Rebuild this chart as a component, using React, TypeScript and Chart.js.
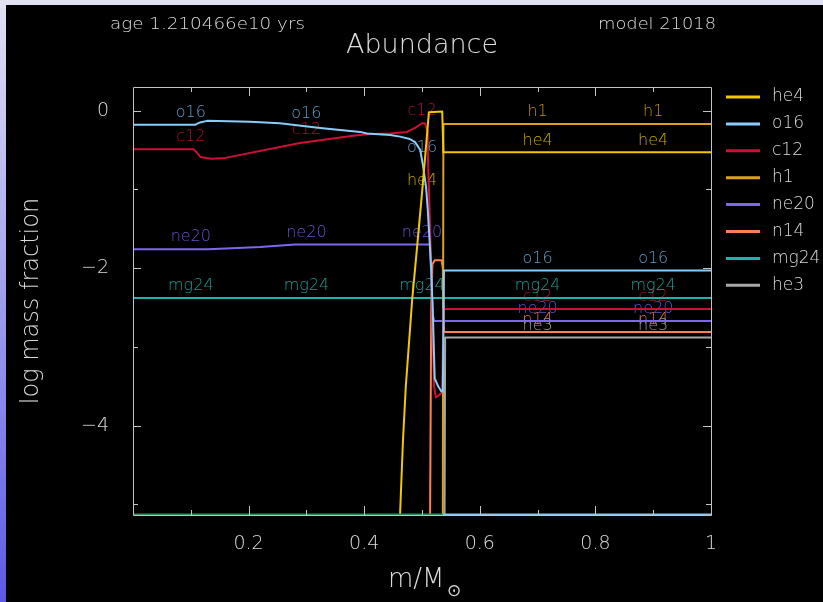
import React, { useEffect, useRef } from 'react';
import { Chart, registerables } from 'chart.js';

Chart.register(...registerables);

// ---- data (log mass fraction vs m/Msun) ----
const Y_MIN = -5.134;
const Y_MAX = 0.3;
const FLOOR = -5.134;

const SERIES_NAMES = ['he4', 'o16', 'c12', 'h1', 'ne20', 'n14', 'mg24', 'he3'];
const SERIES_COLORS = ['#f2c800', '#87cefa', '#cf1036', '#dca21c', '#7b68ee', '#ff7f50', '#20b2aa', '#a8a8a8'];
const LABEL_COLORS = ['#c8a800', '#5f9cc8', '#b0102e', '#c0901c', '#6454cc', '#e07048', '#1a9c95', '#9a9a9a'];
const LABEL_X = [0.1, 0.3, 0.5, 0.7, 0.9];

const HE4_X = [0, 0.462, 0.467, 0.472, 0.483, 0.491, 0.5, 0.512, 0.535, 0.537, 1];
const HE4_Y = [FLOOR, FLOOR, -4.2, -3.5, -2.4, -1.77, -1.05, -0.02, -0.01, -0.53, -0.53];

const O16_X = [0, 0.107, 0.116, 0.128, 0.202, 0.254, 0.324, 0.393, 0.405, 0.445, 0.462, 0.479, 0.488, 0.497, 0.502, 0.507, 0.51, 0.513, 0.516, 0.519, 0.522, 0.528, 0.533, 0.536, 0.538, 1];
const O16_Y = [-0.18, -0.18, -0.15, -0.13, -0.14, -0.16, -0.22, -0.27, -0.29, -0.31, -0.33, -0.36, -0.4, -0.5, -0.71, -0.97, -1.26, -1.64, -2.02, -2.63, -3.4, -3.5, -3.56, -3.57, -2.03, -2.03];

const C12_X = [0, 0.105, 0.11, 0.117, 0.135, 0.16, 0.289, 0.381, 0.405, 0.445, 0.474, 0.488, 0.5, 0.505, 0.509, 0.51, 0.512, 0.516, 0.519, 0.521, 0.524, 0.53, 0.535, 0.537, 1];
const C12_Y = [-0.49, -0.49, -0.53, -0.59, -0.61, -0.6, -0.41, -0.32, -0.3, -0.29, -0.27, -0.22, -0.16, -0.16, -0.25, -0.5, -1.0, -2.0, -3.0, -3.5, -3.64, -3.61, -3.57, -2.52, -2.52];

const H1_X = [0, 0.536, 0.537, 1];
const H1_Y = [FLOOR, FLOOR, -0.17, -0.17];

const NE20_X = [0, 0.13, 0.22, 0.28, 0.514, 0.517, 0.519, 0.521, 1];
const NE20_Y = [-1.76, -1.76, -1.73, -1.7, -1.7, -2.3, -2.6, -2.67, -2.67];

const N14_X = [0, 0.514, 0.516, 0.518, 0.522, 0.534, 0.536, 0.538, 1];
const N14_Y = [FLOOR, FLOOR, -2.5, -1.95, -1.9, -1.9, -2.0, -2.81, -2.81];

const MG24_X = [0, 1];
const MG24_Y = [-2.38, -2.38];

const HE3_X = [0, 0.539, 0.54, 1];
const HE3_Y = [FLOOR, FLOOR, -2.88, -2.88];

// unlabeled species lying on the floor
const OTHER1_X = [0, 0.536];
const OTHER1_Y = [FLOOR, FLOOR];
const OTHER2_X = [0.536, 1];
const OTHER2_Y = [FLOOR, FLOOR];

const X_TICKS_MAJOR = [0.2, 0.4, 0.6, 0.8];
const X_TICKS_MINOR = [0.1, 0.3, 0.5, 0.7, 0.9];
const Y_TICKS_MAJOR = [0, -2, -4];
const Y_TICKS_MINOR = [-1, -3, -5];

const AGE_TEXT = 'age 1.210466e10 yrs';
const MODEL_TEXT = 'model 21018';
const TITLE_TEXT = 'Abundance';
const Y_TITLE = 'log mass fraction';

const FONT = '"DejaVu Sans", sans-serif';
const TEXT_COLOR = '#dcdcdc';

const SERIES_X = [HE4_X, O16_X, C12_X, H1_X, NE20_X, N14_X, MG24_X, HE3_X];
const SERIES_Y = [HE4_Y, O16_Y, C12_Y, H1_Y, NE20_Y, N14_Y, MG24_Y, HE3_Y];

const zip = (xs: number[], ys: number[]) => xs.map((x, i) => ({ x, y: ys[i] }));

function interp(pts: { x: number; y: number }[], x: number): number | null {
  for (let i = 0; i < pts.length - 1; i++) {
    const a = pts[i], b = pts[i + 1];
    if (x >= a.x && x <= b.x) {
      if (b.x === a.x) return a.y;
      return a.y + ((x - a.x) / (b.x - a.x)) * (b.y - a.y);
    }
  }
  return null;
}

function drawText(ctx: CanvasRenderingContext2D, text: string, x: number, y: number, size: number, align: CanvasTextAlign, targetWidth?: number) {
  ctx.save();
  ctx.font = `200 ${size}px ${FONT}`;
  ctx.textBaseline = 'middle';
  let sx = 1;
  if (targetWidth) {
    const w = ctx.measureText(text).width;
    if (w > 0) sx = targetWidth / w;
  }
  ctx.translate(x, y);
  ctx.scale(sx, 1);
  ctx.textAlign = align;
  ctx.fillText(text, 0, 0);
  ctx.restore();
}

const bgPlugin = {
  id: 'bg',
  beforeDraw(chart: any) {
    const { ctx, width, height } = chart;
    ctx.save();
    ctx.fillStyle = '#000';
    ctx.fillRect(0, 0, width, height);
    ctx.restore();
  },
};

const labelPlugin = {
  id: 'seriesLabels',
  beforeDatasetsDraw(chart: any) {
    const { ctx } = chart;
    const xs = chart.scales.x, ys = chart.scales.y;
    ctx.save();
    ctx.font = `200 16px ${FONT}`;
    ctx.textAlign = 'center';
    ctx.textBaseline = 'middle';
    chart.data.datasets.forEach((ds: any) => {
      if (!ds.labelColor) return;
      LABEL_X.forEach((lx) => {
        const v = interp(ds.data, lx);
        if (v == null || v <= Y_MIN + 0.05) return;
        ctx.fillStyle = ds.labelColor;
        ctx.fillText(ds.label, xs.getPixelForValue(lx), ys.getPixelForValue(v) - 12);
      });
    });
    ctx.restore();
  },
};

const framePlugin = {
  id: 'frame',
  afterDatasetsDraw(chart: any) {
    const { ctx, chartArea: a } = chart;
    const xs = chart.scales.x, ys = chart.scales.y;
    ctx.save();
    ctx.strokeStyle = '#c4c4c4';
    ctx.lineWidth = 1;
    ctx.beginPath();
    ctx.rect(Math.round(a.left) + 0.5, Math.round(a.top) + 0.5, Math.round(a.right - a.left), Math.round(a.bottom - a.top));
    const tick = (vals: number[], len: number) => {
      vals.forEach((v) => {
        const px = Math.round(xs.getPixelForValue(v)) + 0.5;
        ctx.moveTo(px, a.bottom); ctx.lineTo(px, a.bottom - len);
        ctx.moveTo(px, a.top); ctx.lineTo(px, a.top + len);
      });
    };
    const tickY = (vals: number[], len: number) => {
      vals.forEach((v) => {
        const py = Math.round(ys.getPixelForValue(v)) + 0.5;
        ctx.moveTo(a.left, py); ctx.lineTo(a.left + len, py);
        ctx.moveTo(a.right, py); ctx.lineTo(a.right - len, py);
      });
    };
    tick(X_TICKS_MAJOR, 9);
    tick(X_TICKS_MINOR, 5);
    tickY(Y_TICKS_MAJOR, 8);
    tickY(Y_TICKS_MINOR, 5);
    ctx.stroke();
    ctx.restore();
  },
};

const textPlugin = {
  id: 'texts',
  afterDraw(chart: any) {
    const { ctx } = chart;
    ctx.save();
    ctx.fillStyle = TEXT_COLOR;
    drawText(ctx, AGE_TEXT, 104, 20, 15, 'left', 195);
    drawText(ctx, MODEL_TEXT, 710, 20, 15, 'right', 118);
    drawText(ctx, TITLE_TEXT, 416, 41, 27, 'center');
    // y axis title
    ctx.save();
    ctx.translate(26, 296);
    ctx.rotate(-Math.PI / 2);
    drawText(ctx, Y_TITLE, 0, 0, 24, 'center');
    ctx.restore();
    // x axis title m/M_sun
    drawText(ctx, 'm/M', 382, 575, 26, 'left');
    drawText(ctx, '\u2299', 441, 587, 17, 'left');
    // legend
    const sets = chart.data.datasets.filter((d: any) => d.labelColor);
    sets.forEach((d: any, i: number) => {
      const y = 92 + i * 26.9;
      ctx.strokeStyle = d.borderColor;
      ctx.lineWidth = 3;
      ctx.beginPath();
      ctx.moveTo(720, y);
      ctx.lineTo(754, y);
      ctx.stroke();
      ctx.fillStyle = TEXT_COLOR;
      drawText(ctx, d.label, 766, y, 17, 'left');
    });
    ctx.restore();
  },
};

export default function App() {
  const ref = useRef<HTMLCanvasElement | null>(null);
  useEffect(() => {
    if (!ref.current) return;
    const datasets: any[] = [
      { label: 'other1', data: zip(OTHER1_X, OTHER1_Y), borderColor: '#2e8b57', borderWidth: 3 },
      { label: 'other2', data: zip(OTHER2_X, OTHER2_Y), borderColor: '#87c4f0', borderWidth: 3 },
    ];
    SERIES_NAMES.forEach((name, i) => {
      datasets.push({
        label: name,
        data: zip(SERIES_X[i], SERIES_Y[i]),
        borderColor: SERIES_COLORS[i],
        backgroundColor: SERIES_COLORS[i],
        labelColor: LABEL_COLORS[i],
        borderWidth: 2,
      });
    });
    const chart = new Chart(ref.current, {
      type: 'line',
      data: { datasets },
      options: {
        animation: false,
        responsive: false,
        devicePixelRatio: 1,
        layout: { padding: { left: 0, top: 82, right: 112, bottom: 0 } },
        plugins: { legend: { display: false }, title: { display: false }, tooltip: { enabled: false } },
        elements: { point: { radius: 0 }, line: { tension: 0, borderJoinStyle: 'round' } },
        scales: {
          x: {
            type: 'linear',
            min: 0,
            max: 1,
            grid: { display: false },
            border: { display: false },
            ticks: {
              stepSize: 0.2,
              color: TEXT_COLOR,
              font: { family: FONT, size: 19, weight: '200' },
              padding: 10,
              maxRotation: 0,
              callback: (v: any) => (Math.abs(v) < 1e-9 ? '' : String(Math.round(v * 10) / 10)),
            },
            afterFit: (s: any) => { s.height = 87; },
          },
          y: {
            type: 'linear',
            min: Y_MIN,
            max: Y_MAX,
            grid: { display: false },
            border: { display: false },
            ticks: {
              stepSize: 2,
              includeBounds: false,
              color: TEXT_COLOR,
              font: { family: FONT, size: 19, weight: '200' },
              padding: 16,
              callback: (v: any) => (Math.abs(v) < 1e-9 ? '0' : (v < 0 ? '\u2212' : '') + String(Math.abs(Math.round(v)))),
            },
            afterFit: (s: any) => { s.width = 127; },
          },
        },
      } as any,
      plugins: [bgPlugin, labelPlugin, framePlugin, textPlugin],
    });
    return () => chart.destroy();
  }, []);

  return (
    <div style={{ position: 'fixed', left: 0, top: 0, width: 823, height: 602, overflow: 'hidden', background: 'linear-gradient(to bottom, #e2e2f5, #5a5ae8)' }}>
      <canvas ref={ref} width={817} height={597} style={{ position: 'absolute', left: 6, top: 5, width: 817, height: 597, display: 'block' }} />
    </div>
  );
}
